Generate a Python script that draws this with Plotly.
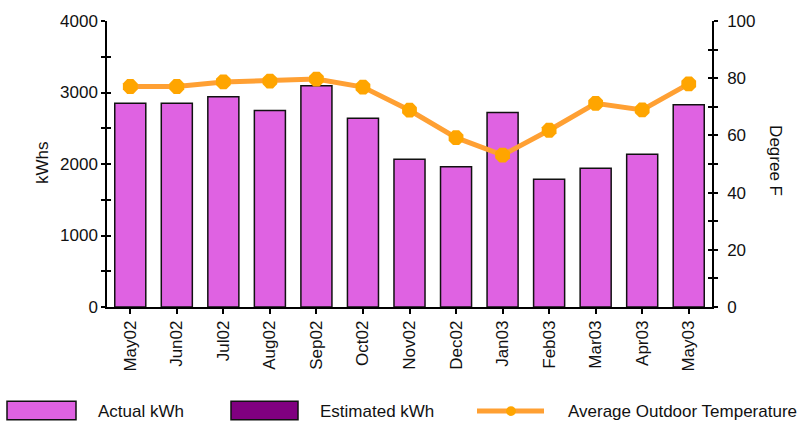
import plotly.graph_objects as go

months = ["May02", "Jun02", "Jul02", "Aug02", "Sep02", "Oct02", "Nov02",
          "Dec02", "Jan03", "Feb03", "Mar03", "Apr03", "May03"]
actual_kwh = [2850, 2850, 2940, 2750, 3095, 2640, 2065, 1960, 2720, 1785, 1940, 2135, 2830]
estimated_kwh = [None, None, None, None, None, None, None, None, None, None, None, None, None]
avg_temp = [77.1, 77.1, 78.7, 79.0, 79.7, 76.9, 68.8, 59.2, 53.1, 61.8, 71.2, 68.9, 78.0]

kwh_ticks = [0, 1000, 2000, 3000, 4000]
temp_ticks = [0, 20, 40, 60, 80, 100]

FONT = "Liberation Sans, Arial, sans-serif"
TXT = "#111111"
PINK = "#DF62E2"
PURPLE = "#800080"
ORANGE_LINE = "#FFA033"
ORANGE_MK = "#FFA500"
FS = 17

W, H = 805, 429
L, R, T, B = 107, 93, 13, 122
PW, PH = W - L - R, H - T - B


def px(x):
    return (x - L) / PW


def py(y):
    return (H - B - y) / PH


fig = go.Figure()
fig.add_trace(go.Bar(x=months, y=actual_kwh, name="Actual kWh",
                     marker=dict(color=PINK, line=dict(color="#111111", width=1.5)),
                     showlegend=False))
fig.add_trace(go.Bar(x=months, y=estimated_kwh, name="Estimated kWh",
                     marker=dict(color=PURPLE, line=dict(color="#111111", width=1.5)),
                     showlegend=False))
fig.add_trace(go.Scatter(x=months, y=avg_temp, yaxis="y2", mode="lines+markers",
                         name="Average Outdoor Temperature",
                         line=dict(color=ORANGE_LINE, width=5),
                         marker=dict(color=ORANGE_MK, size=16, symbol="octagon"),
                         showlegend=False))
# helper (empty) traces so the tick overlays are drawn
fig.add_trace(go.Scatter(x=[], y=[], yaxis="y3", showlegend=False, hoverinfo="skip"))
fig.add_trace(go.Scatter(x=[], y=[], yaxis="y4", showlegend=False, hoverinfo="skip"))

tickfont = dict(family=FONT, size=FS, color=TXT)
common = dict(showgrid=False, zeroline=False, linecolor="#000000", tickcolor="#000000",
              tickwidth=1.5)

fig.update_layout(
    width=W, height=H, autosize=False,
    margin=dict(l=L, r=R, t=T, b=B, pad=0),
    paper_bgcolor="white", plot_bgcolor="white",
    barmode="overlay", bargap=0.333,
    xaxis=dict(type="category", categoryorder="array", categoryarray=months,
               range=[-0.5, len(months) - 0.5], showline=True, linewidth=1.5,
               ticks="outside", ticklen=5, tickangle=-90, tickfont=tickfont, **common),
    yaxis=dict(range=[0, 4000], tickvals=kwh_ticks, ticks="outside", ticklen=4,
               minor=dict(dtick=500, ticks="outside", ticklen=4, tickcolor="#000000", tickwidth=1.5),
               showline=True, linewidth=1.5, tickfont=tickfont, **common),
    yaxis3=dict(range=[0, 4000], overlaying="y", side="left", anchor="x",
                tickvals=kwh_ticks, ticks="inside", ticklen=4,
                minor=dict(dtick=500, ticks="inside", ticklen=4, tickcolor="#000000", tickwidth=1.5),
                showline=False, showticklabels=False, **common),
    yaxis2=dict(range=[0, 100], overlaying="y", side="right", anchor="x",
                tickvals=temp_ticks, ticks="outside", ticklen=4,
                minor=dict(dtick=10, ticks="outside", ticklen=4, tickcolor="#000000", tickwidth=1.5),
                showline=True, linewidth=1.5, tickfont=tickfont, ticklabelstandoff=6, **common),
    yaxis4=dict(range=[0, 100], overlaying="y", side="right", anchor="x",
                tickvals=temp_ticks, ticks="inside", ticklen=4,
                minor=dict(dtick=10, ticks="inside", ticklen=4, tickcolor="#000000", tickwidth=1.5),
                showline=False, showticklabels=False, **common),
    font=dict(family=FONT, size=FS, color=TXT),
)

annotations = [
    dict(text="kWhs", x=px(42), y=py(159), textangle=-90),
    dict(text="Degree F", x=px(776), y=py(156), textangle=90),
    dict(text="Actual kWh", x=px(96), y=py(414), xanchor="left"),
    dict(text="Estimated kWh", x=px(318), y=py(414), xanchor="left"),
    dict(text="Average Outdoor Temperature", x=px(566), y=py(414), xanchor="left"),
]
for a in annotations:
    a.update(xref="paper", yref="paper", showarrow=False,
             font=dict(family=FONT, size=FS, color=TXT))
    a.setdefault("xanchor", "center")
    a.setdefault("yanchor", "middle")
fig.update_layout(annotations=annotations)

shapes = [
    dict(type="rect", x0=px(7), x1=px(76), y0=py(423), y1=py(404),
         fillcolor=PINK, line=dict(color="#111111", width=1.5)),
    dict(type="rect", x0=px(231), x1=px(298), y0=py(423), y1=py(404),
         fillcolor=PURPLE, line=dict(color="#111111", width=1.5)),
    dict(type="line", x0=px(477), x1=px(544), y0=py(414), y1=py(414),
         line=dict(color=ORANGE_LINE, width=5)),
    dict(type="circle", x0=px(506), x1=px(516), y0=py(419), y1=py(409),
         fillcolor=ORANGE_MK, line=dict(color=ORANGE_MK, width=0)),
]
for s in shapes:
    s.update(xref="paper", yref="paper")
fig.update_layout(shapes=shapes)

fig.write_html("out.html", config={"displayModeBar": False},
               post_script="document.body.style.margin='0';document.body.style.overflow='hidden';")
